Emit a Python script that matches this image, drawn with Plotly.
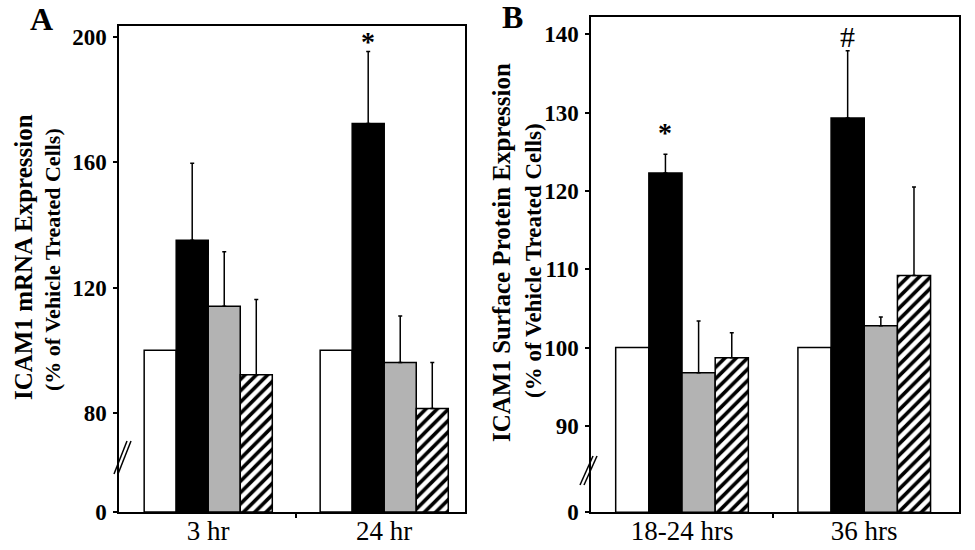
import plotly.graph_objects as go

# ---------------- data ----------------
groups_a = ["3 hr", "24 hr"]
groups_b = ["18-24 hrs", "36 hrs"]

# Panel A: ICAM1 mRNA expression (% of vehicle)
a_vehicle = [100.0, 100.0]
a_black = [135.1, 172.3]
a_gray = [114.0, 96.1]
a_hatch = [92.2, 81.4]
a_black_err_top = [159.6, 195.3]
a_gray_err_top = [131.4, 110.9]
a_hatch_err_top = [116.2, 96.1]

# Panel B: ICAM1 surface protein expression (% of vehicle)
b_vehicle = [100.0, 100.0]
b_black = [122.3, 129.3]
b_gray = [96.8, 102.8]
b_hatch = [98.7, 109.2]
b_black_err_top = [124.7, 137.9]
b_gray_err_top = [103.4, 103.9]
b_hatch_err_top = [101.9, 120.5]

a_ticks = [80, 120, 160, 200]
b_ticks = [90, 100, 110, 120, 130, 140]

# broken axis: where "0" is drawn on each axis
ZA = 48.4
ZB = 78.97

W, H = 975, 550
FONT = "Liberation Serif"

fig = go.Figure()

def add_panel(xa, ya, Z, vals, errs):
    styles = [
        dict(marker=dict(color="white", line=dict(color="black", width=1.5))),
        dict(marker=dict(color="black", line=dict(color="black", width=1.5))),
        dict(marker=dict(color="#b3b3b3", line=dict(color="black", width=1.5))),
        dict(marker=dict(color="white", line=dict(color="black", width=1.5),
                         pattern=dict(shape="/", fgcolor="black", bgcolor="white",
                                      fgopacity=1, size=8, solidity=0.45))),
    ]
    for v, e, st in zip(vals, errs, styles):
        kw = {}
        if e is not None:
            kw["error_y"] = dict(type="data", symmetric=False,
                                 array=[t - m for t, m in zip(e, v)],
                                 arrayminus=[0] * len(v),
                                 color="black", thickness=1.5, width=2)
        fig.add_trace(go.Bar(x=[0, 1], y=[m - Z for m in v], base=Z,
                             xaxis=xa, yaxis=ya, showlegend=False, **kw, **st))

add_panel("x", "y", ZA, [a_vehicle, a_black, a_gray, a_hatch],
          [None, a_black_err_top, a_gray_err_top, a_hatch_err_top])
add_panel("x2", "y2", ZB, [b_vehicle, b_black, b_gray, b_hatch],
          [None, b_black_err_top, b_gray_err_top, b_hatch_err_top])

axis_common = dict(showline=True, mirror=True, linecolor="black", linewidth=1.5,
                   showgrid=False, zeroline=False, automargin=False)

xcommon = dict(axis_common, tickmode="array", tickvals=[0, 1], ticks="",
               tickfont=dict(family=FONT, size=27, color="black"),
               ticklabelstandoff=-6,
               minor=dict(tickmode="array", tickvals=[0.5], ticks="outside",
                          ticklen=4, tickwidth=1.5, tickcolor="black"))
ycommon = dict(axis_common, tickmode="array", ticks="outside", ticklen=4,
               tickwidth=1.5, tickcolor="black",
               tickfont=dict(family=FONT, size=23, color="black", weight="bold"),
               ticklabelstandoff=2)

fig.update_layout(
    width=W, height=H,
    margin=dict(l=0, r=0, t=0, b=0, autoexpand=False),
    paper_bgcolor="white", plot_bgcolor="white",
    barmode="group", bargap=0.272, bargroupgap=0,
    xaxis=dict(xcommon, domain=[119 / W, 465 / W], range=[-0.507, 1.459],
               ticktext=groups_a, anchor="y"),
    yaxis=dict(ycommon, domain=[1 - 512 / H, 1 - 25.7 / H], range=[ZA, 203.5],
               tickvals=[ZA] + a_ticks, ticktext=["0"] + [str(t) for t in a_ticks],
               anchor="x"),
    xaxis2=dict(xcommon, domain=[591 / W, 959 / W], range=[-0.4995, 1.52],
                ticktext=groups_b, anchor="y2"),
    yaxis2=dict(ycommon, domain=[1 - 512.3 / H, 1 - 16.7 / H], range=[ZB, 142.25],
                tickvals=[ZB] + b_ticks, ticktext=["0"] + [str(t) for t in b_ticks],
                anchor="x2"),
)

# axis break marks (paper pixel coords)
def pline(x0, y0, x1, y1):
    fig.add_shape(type="line", xref="paper", yref="paper",
                  x0=x0 / W, y0=1 - y0 / H, x1=x1 / W, y1=1 - y1 / H,
                  line=dict(color="black", width=1.5))

pline(114, 474, 127, 441)
pline(118, 474, 131, 441)
pline(580, 485, 593, 456)
pline(584, 485, 597, 456)

# significance markers above black bars (black bar offset = -0.5 * bar width)
bw = (1 - 0.272) / 4
fig.add_annotation(x=1 - 0.5 * bw, y=198.6, xref="x", yref="y", text="<b>*</b>",
                   showarrow=False, xanchor="center", yanchor="middle",
                   font=dict(family=FONT, size=28, color="black"))
fig.add_annotation(x=0 - 0.5 * bw, y=127.5, xref="x2", yref="y2", text="<b>*</b>",
                   showarrow=False, xanchor="center", yanchor="middle",
                   font=dict(family=FONT, size=28, color="black"))
fig.add_annotation(x=1 - 0.5 * bw, y=139.7, xref="x2", yref="y2", text="#",
                   showarrow=False, xanchor="center", yanchor="middle",
                   font=dict(family=FONT, size=30, color="black"))

# panel letters
fig.add_annotation(x=41 / W, y=1 - 19 / H, xref="paper", yref="paper", text="<b>A</b>",
                   showarrow=False, xanchor="center", yanchor="middle",
                   font=dict(family=FONT, size=32, color="black"))
fig.add_annotation(x=512 / W, y=1 - 17 / H, xref="paper", yref="paper", text="<b>B</b>",
                   showarrow=False, xanchor="center", yanchor="middle",
                   font=dict(family=FONT, size=32, color="black"))

# y-axis titles
def vtitle(x, y, text, size):
    fig.add_annotation(x=x / W, y=1 - y / H, xref="paper", yref="paper",
                       text="<b>" + text + "</b>", textangle=-90, showarrow=False,
                       xanchor="center", yanchor="middle",
                       font=dict(family=FONT, size=size, color="black"))

vtitle(23, 257, "ICAM1 mRNA Expression", 25)
vtitle(53, 260, "(% of Vehicle Treated Cells)", 22)
vtitle(502, 253, "ICAM1 Surface Protein Expression", 25)
vtitle(533, 261, "(% of Vehicle Treated Cells)", 23)

fig.write_html("out.html", config={"displayModeBar": False},
               post_script="document.body.style.margin='0px';")
